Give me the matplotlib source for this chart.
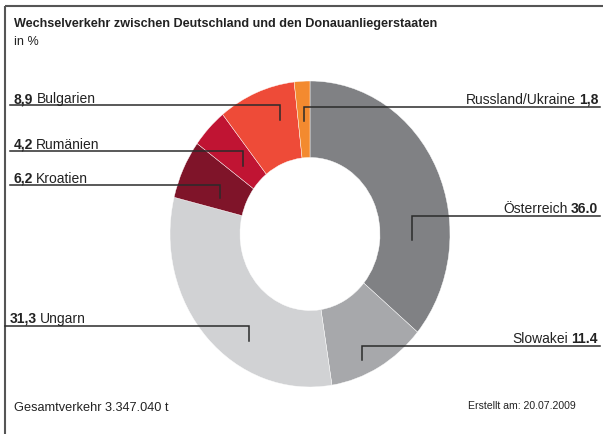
import matplotlib.pyplot as plt

# Daten
laender = ['Österreich', 'Slowakei', 'Ungarn', 'Kroatien', 'Rumänien',
           'Bulgarien', 'Russland/Ukraine']
anteile = [36.0, 11.4, 31.3, 6.2, 4.2, 8.9, 1.8]
wert_text = ['36.0', '11.4', '31,3', '6,2', '4,2', '8,9', '1,8']
farben = ['#808184', '#a7a8ab', '#d1d2d4', '#7f1429', '#c01433',
          '#ee4b38', '#f38a2f']

plt.rcParams['font.family'] = ['Liberation Sans', 'DejaVu Sans']

W, H = 603, 435
fig = plt.figure(figsize=(W / 100, H / 100), dpi=100)

# Donut (leicht elliptisch wie im Original)
cx, cy, rx, ry = 310, 235, 140, 153
ax = fig.add_axes([(cx - rx) / W, (H - cy - ry) / H, 2 * rx / W, 2 * ry / H])
ax.pie(anteile, colors=farben, startangle=90, counterclock=False,
       radius=1, wedgeprops=dict(width=0.5, edgecolor='white', linewidth=0.3))
ax.set_aspect('auto')
ax.set_xlim(-1, 1)
ax.set_ylim(-1, 1)
ax.axis('off')

# Overlay in Pixelkoordinaten
ov = fig.add_axes([0, 0, 1, 1], zorder=5)
ov.set_xlim(0, W)
ov.set_ylim(H, 0)
ov.axis('off')
ov.patch.set_alpha(0)

# Rahmen oben/links
ov.plot([5, W], [7, 7], color='#555555', lw=1.5, solid_capstyle='butt')
ov.plot([5, 5], [7, H], color='#555555', lw=1.5, solid_capstyle='butt')

ov.text(14, 27, 'Wechselverkehr zwischen Deutschland und den Donauanliegerstaaten',
        fontsize=9.1, fontweight='bold', color='#222222', va='baseline')
ov.text(14, 45, 'in %', fontsize=9.1, color='#222222', va='baseline')

# Beschriftungen: (seite, text-x, baseline, linie-start, linie-y, tick-x, tick-unten)
layout = {
    'Österreich':       ('r', 598, 213, 600, 217, 412, 241),
    'Slowakei':         ('r', 598, 343, 600, 347, 362, 361),
    'Ungarn':           ('l', 10, 323, 5, 327, 249, 342),
    'Kroatien':         ('l', 14, 183, 10, 186, 220, 199),
    'Rumänien':         ('l', 14, 149, 10, 152, 243, 167),
    'Bulgarien':        ('l', 14, 103, 10, 106, 280, 121),
    'Russland/Ukraine': ('r', 598, 104, 600, 108, 304, 122),
}

fs = 10
for name, wert in zip(laender, wert_text):
    seite, tx, ty, lx, ly, kx, ky = layout[name]
    ov.plot([lx, kx, kx], [ly, ly, ky], color='#2b2b2b', lw=1.1,
            solid_joinstyle='miter')
    if seite == 'l':
        t1 = ov.text(tx, ty, wert, fontsize=fs, fontweight='bold',
                     color='#222222', va='baseline', ha='left')
        ov.annotate(name, xy=(1, 0), xycoords=t1, xytext=(2.2, 0),
                    textcoords='offset points', fontsize=fs,
                    color='#222222', va='bottom', ha='left')
    else:
        t1 = ov.text(tx, ty, wert, fontsize=fs, fontweight='bold',
                     color='#222222', va='baseline', ha='right')
        ov.annotate(name, xy=(0, 0), xycoords=t1, xytext=(-2.2, 0),
                    textcoords='offset points', fontsize=fs,
                    color='#222222', va='bottom', ha='right')

ov.text(14, 411, 'Gesamtverkehr 3.347.040 t', fontsize=9.2, color='#222222',
        va='baseline')
ov.text(576, 409, 'Erstellt am: 20.07.2009', fontsize=7.6, color='#222222',
        va='baseline', ha='right')

fig.savefig('out.png', dpi=100)
